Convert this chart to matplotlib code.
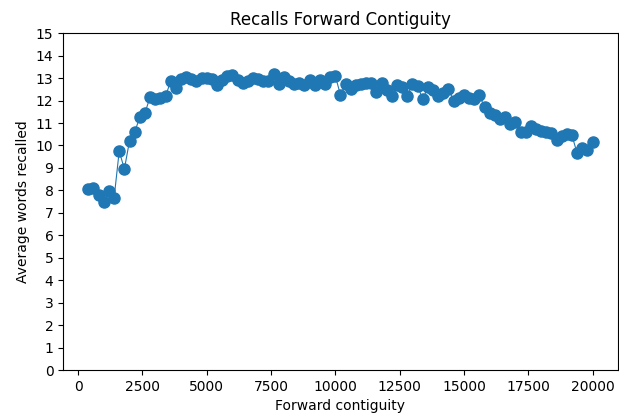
import matplotlib
matplotlib.use("Agg")
import matplotlib.pyplot as plt

x_contiguity = list(range(400, 20001, 200))
avg_recalled = [
    8.05, 8.1, 7.8, 7.5, 7.95, 7.65, 9.75, 8.95, 10.2, 10.6,
    11.25, 11.45, 12.15, 12.05, 12.1, 12.2, 12.85, 12.55, 12.95, 13.05,
    12.95, 12.85, 13.0, 13.0, 12.95, 12.7, 12.9, 13.1, 13.15, 12.9,
    12.8, 12.85, 13.0, 12.95, 12.85, 12.85, 13.2, 12.75, 13.05, 12.85,
    12.75, 12.8, 12.7, 12.9, 12.7, 12.9, 12.75, 13.05, 13.1, 12.25,
    12.75, 12.5, 12.7, 12.75, 12.8, 12.8, 12.4, 12.8, 12.45, 12.2,
    12.7, 12.6, 12.2, 12.75, 12.65, 12.05, 12.6, 12.45, 12.2, 12.35,
    12.5, 12.0, 12.1, 12.25, 12.1, 12.05, 12.25, 11.7, 11.45, 11.35,
    11.2, 11.25, 10.95, 11.05, 10.6, 10.6, 10.85, 10.75, 10.65, 10.6,
    10.55, 10.25, 10.4, 10.5, 10.45, 9.65, 9.9, 9.8, 10.15,
]
y_ticks = list(range(0, 16))

fig = plt.figure(figsize=(6.19, 4.2), dpi=100)
ax = fig.add_axes([0.102, 0.119, 0.896, 0.802])
ax.plot(x_contiguity, avg_recalled, marker='o', markersize=8, linewidth=0.8, color='#1f77b4')
ax.set_ylim(0, 15)
ax.set_yticks(y_ticks)
ax.set_title("Recalls Forward Contiguity")
ax.set_xlabel("Forward contiguity")
ax.set_ylabel("Average words recalled")
fig.savefig("out.png", dpi=100)
